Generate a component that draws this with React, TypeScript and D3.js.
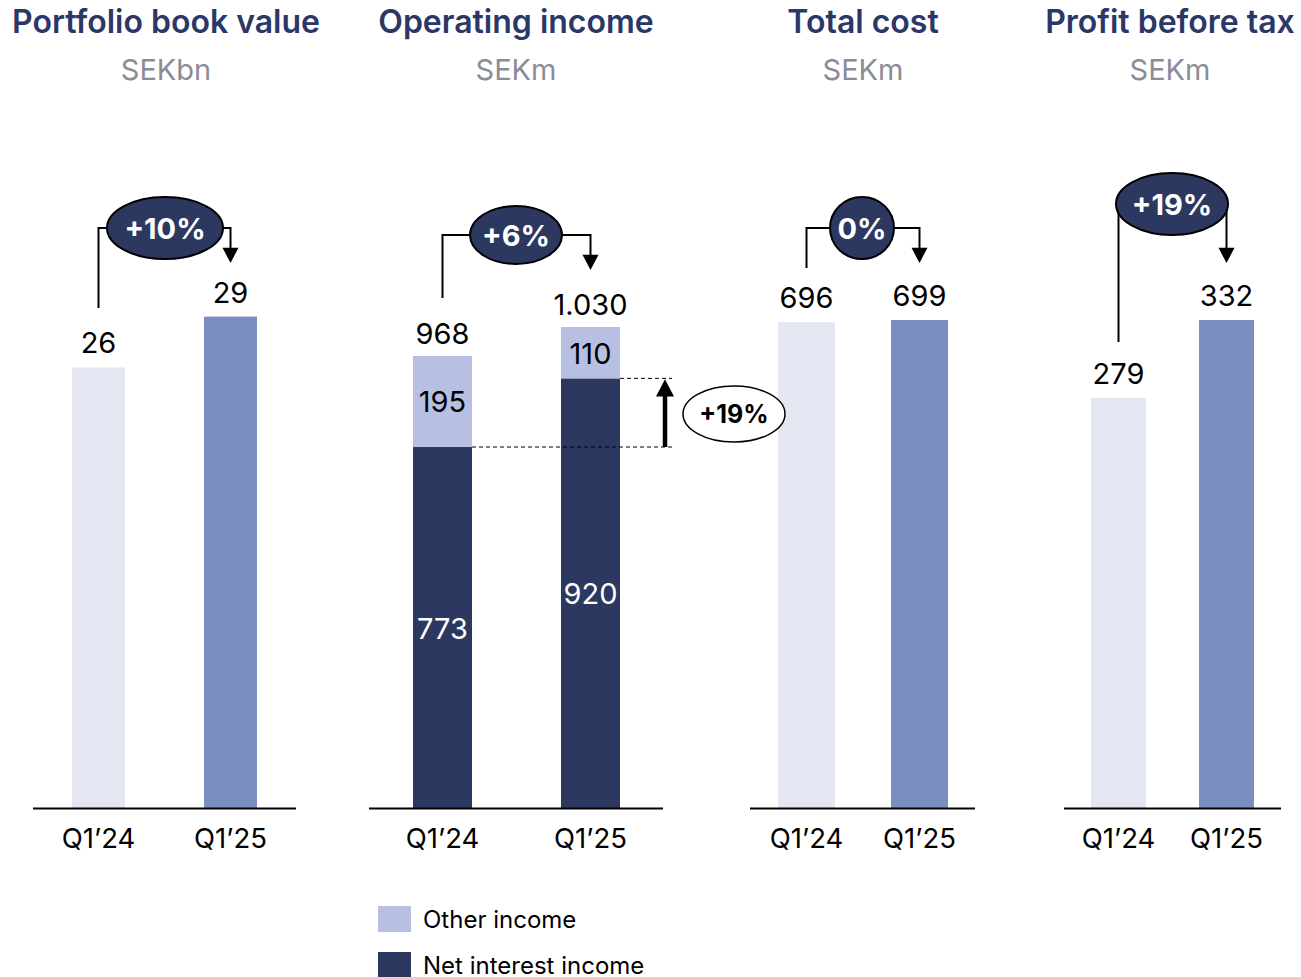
import React from "react";
import * as d3 from "d3";

const periods = ["Q1’24", "Q1’25"];
const panelTitles = ["Portfolio book value", "Operating income", "Total cost", "Profit before tax"];
const panelUnits = ["SEKbn", "SEKm", "SEKm", "SEKm"];
const portfolioValues = [26, 29];
const otherIncome = [195, 110];
const netInterestIncome = [773, 920];
const totalCost = [696, 699];
const profitBeforeTax = [279, 332];
const changeLabels = ["+10%", "+6%", "0%", "+19%"];
const niiChangeLabel = "+19%";
const legendLabels = ["Other income", "Net interest income"];

const C_LIGHT = "#E4E6F2";
const C_MED = "#7A8EC0";
const C_DARK = "#2C3860";
const C_OTHER = "#B7BFE3";
const C_TITLE = "#2B3766";
const C_SUB = "#8C8B96";
const FONT = "Inter, 'Noto Sans', sans-serif";

const fmt = d3.formatLocale({ decimal: ",", thousands: ".", grouping: [3], currency: ["", ""] }).format(",d");

const BASE = 808;
const TOP = 320;
const VAL_FS = 29;

type Panel = {
  axis: [number, number];
  centers: [number, number];
  barW: number;
  yMax: number;
  titleX: number;
  badge: { cx: number; cy: number; rx: number; ry: number };
};

const panels: Panel[] = [
  { axis: [33, 296], centers: [98.5, 230.5], barW: 53, yMax: 28.8, titleX: 166, badge: { cx: 165, cy: 228, rx: 58, ry: 31 } },
  { axis: [369, 663], centers: [442.5, 590.5], barW: 59, yMax: 1045, titleX: 516, badge: { cx: 516, cy: 235, rx: 46, ry: 29 } },
  { axis: [750, 975], centers: [806.5, 919.5], barW: 57, yMax: 699, titleX: 863, badge: { cx: 862, cy: 228, rx: 32, ry: 31 } },
  { axis: [1064, 1281], centers: [1118.5, 1226.5], barW: 55, yMax: 332, titleX: 1170, badge: { cx: 1172, cy: 204, rx: 56, ry: 31 } },
];

function Arrow({ x, y, down = true, size = 8 }: { x: number; y: number; down?: boolean; size?: number }) {
  const d = down
    ? `M${x - size},${y - size * 1.9} L${x + size},${y - size * 1.9} L${x},${y} Z`
    : `M${x - size},${y + size * 1.9} L${x + size},${y + size * 1.9} L${x},${y} Z`;
  return <path d={d} fill="#000" />;
}

export default function App() {
  const singleSeries = [portfolioValues, null, totalCost, profitBeforeTax];
  const totals = otherIncome.map((v, i) => v + netInterestIncome[i]);
  const leftLineStart = [308, 298, 268, 342];
  const arrowTip = [263, 270, 263, 263];
  const overlay: React.ReactNode[] = [];

  const panelEls = panels.map((p, pi) => {
    const y = d3.scaleLinear().domain([0, p.yMax]).range([BASE, TOP]);
    const x = d3.scalePoint<string>().domain(periods).range(p.centers);
    const b = p.badge;
    const els: React.ReactNode[] = [];
    if (singleSeries[pi]) {
      const vals = singleSeries[pi] as number[];
      vals.forEach((v, i) => {
        const cx = x(periods[i])!;
        els.push(
          <rect key={`b${i}`} x={cx - p.barW / 2} y={y(v)} width={p.barW} height={BASE - y(v)} fill={i === 0 ? C_LIGHT : C_MED} />
        );
        els.push(
          <text key={`v${i}`} x={cx} y={y(v) - 14} textAnchor="middle" fontSize={VAL_FS} fill="#000">{fmt(v)}</text>
        );
      });
    } else {
      periods.forEach((per, i) => {
        const cx = x(per)!;
        const nii = netInterestIncome[i];
        const oth = otherIncome[i];
        const tot = totals[i];
        els.push(<rect key={`n${i}`} x={cx - p.barW / 2} y={y(nii)} width={p.barW} height={BASE - y(nii)} fill={C_DARK} />);
        els.push(<rect key={`o${i}`} x={cx - p.barW / 2} y={y(tot)} width={p.barW} height={y(nii) - y(tot)} fill={C_OTHER} />);
        els.push(<text key={`nl${i}`} x={cx} y={(y(nii) + BASE) / 2 + 11} textAnchor="middle" fontSize={VAL_FS} fill="#fff">{fmt(nii)}</text>);
        els.push(<text key={`ol${i}`} x={cx} y={(y(tot) + y(nii)) / 2 + 11} textAnchor="middle" fontSize={VAL_FS} fill="#000">{fmt(oth)}</text>);
        els.push(<text key={`tl${i}`} x={cx} y={y(tot) - 12} textAnchor="middle" fontSize={VAL_FS} fill="#000">{fmt(tot)}</text>);
      });
      // NII growth annotation (drawn on top of everything)
      const y0 = y(netInterestIncome[0]);
      const y1 = y(netInterestIncome[1]);
      const x0 = x(periods[0])! + p.barW / 2;
      const x1 = x(periods[1])! + p.barW / 2;
      overlay.push(<line key="d0" x1={x0} x2={672} y1={y0} y2={y0} stroke="#000" strokeWidth={1} strokeDasharray="4,3" />);
      overlay.push(<line key="d1" x1={x1} x2={672} y1={y1} y2={y1} stroke="#000" strokeWidth={1} strokeDasharray="4,3" />);
      overlay.push(<line key="ar" x1={665} x2={665} y1={y0} y2={y1 + 16} stroke="#000" strokeWidth={4.5} />);
      overlay.push(<Arrow key="ah" x={665} y={y1 + 1} down={false} size={9} />);
      overlay.push(<ellipse key="ne" cx={734} cy={414} rx={51} ry={28} fill="#fff" stroke="#000" strokeWidth={1.5} />);
      overlay.push(<text key="nt" x={734} y={423} textAnchor="middle" fontSize={25} fontWeight={700} fill="#000">{niiChangeLabel}</text>);
    }
    const lx = p.centers[0];
    const rx = p.centers[1];
    return (
      <g key={pi}>
        <text x={p.titleX} y={33} textAnchor="middle" fontSize={32} fontWeight={600} fill={C_TITLE}>{panelTitles[pi]}</text>
        <text x={p.titleX} y={80} textAnchor="middle" fontSize={29} fill={C_SUB}>{panelUnits[pi]}</text>
        {els}
        <line x1={p.axis[0]} x2={p.axis[1]} y1={BASE + 0.5} y2={BASE + 0.5} stroke="#000" strokeWidth={2} />
        {periods.map((per) => (
          <text key={per} x={x(per)!} y={848} textAnchor="middle" fontSize={27.5} fill="#000">{per}</text>
        ))}
        <path d={`M${lx},${leftLineStart[pi]} V${b.cy} H${b.cx}`} fill="none" stroke="#000" strokeWidth={2} />
        <path d={`M${b.cx},${b.cy} H${rx} V${arrowTip[pi] - 14}`} fill="none" stroke="#000" strokeWidth={2} />
        <Arrow x={rx} y={arrowTip[pi]} size={8} />
        <ellipse cx={b.cx} cy={b.cy} rx={b.rx} ry={b.ry} fill={C_DARK} stroke="#000" strokeWidth={2} />
        <text x={b.cx} y={b.cy + 10.5} textAnchor="middle" fontSize={29} fontWeight={700} fill="#fff">{changeLabels[pi]}</text>
      </g>
    );
  });

  return (
    <svg width={1301} height={977} style={{ display: "block", position: "absolute", left: 0, top: 0 }} fontFamily={FONT}>
      <rect width={1301} height={977} fill="#fff" />
      {panelEls}
      <g>{overlay}</g>
      {legendLabels.map((l, i) => (
        <g key={l}>
          <rect x={378} y={906 + i * 46} width={33} height={26} fill={i === 0 ? C_OTHER : C_DARK} />
          <text x={423} y={928 + i * 46} fontSize={24} fill="#000">{l}</text>
        </g>
      ))}
    </svg>
  );
}
